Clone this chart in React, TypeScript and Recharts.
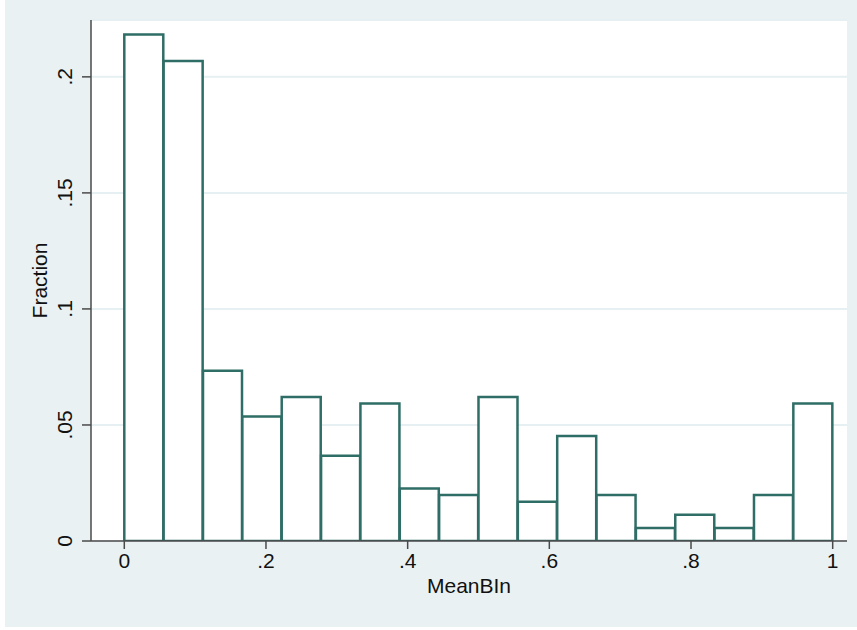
import React from "react"
import { Bar, CartesianGrid, ComposedChart, XAxis, YAxis } from "recharts"

// histogram of MeanBIn, 18 equal bins over [0, 1]
const binCount = 18
const fractions = [
    0.2183, 0.2068, 0.0734, 0.0537, 0.0621, 0.0367, 0.0593, 0.0226, 0.0198,
    0.0621, 0.0169, 0.0452, 0.0198, 0.0056, 0.0113, 0.0056, 0.0198, 0.0593,
]
const xTicks = [0, 0.2, 0.4, 0.6, 0.8, 1]
const yTicks = [0, 0.05, 0.1, 0.15, 0.2]
const xTitle = "MeanBIn"
const yTitle = "Fraction"

const binWidth = 1 / binCount
const data = fractions.map((f, i) => ({
    mid: (i + 0.5) * binWidth,
    fraction: f,
}))

const FONT = "'Liberation Sans', Arial, sans-serif"
const FS = 21
const BAR_COLOR = "#2f6e66"
const AXIS_COLOR = "#4a4a4a"
const BG = "#eaf1f3"

// stata style labels: "0", ".2", ".05" ...
const fmt = (v: number) => {
    if (v === 0) return "0"
    if (v === 1) return "1"
    return String(+v.toFixed(3)).replace(/^0/, "")
}

const XTick = ({ x, y, payload }: any) => (
    <text x={x} y={y} dy={19} textAnchor="middle" fontSize={FS} fill="#111" fontFamily={FONT}>
        {fmt(payload.value)}
    </text>
)

const YTick = ({ x, y, payload }: any) => (
    <text
        x={x - 10}
        y={y}
        textAnchor="middle"
        fontSize={FS}
        fill="#111"
        fontFamily={FONT}
        transform={`rotate(-90, ${x - 10}, ${y})`}
    >
        {fmt(payload.value)}
    </text>
)

export default function App() {
    return (
        <div style={{ position: "absolute", left: 0, top: 0, width: 857, height: 630, background: "#fff" }}>
            <div style={{ position: "absolute", left: 5, top: 0, width: 852, height: 627, background: BG }} />
            <div style={{ position: "absolute", left: 0, top: 0 }}>
                <ComposedChart
                    width={857}
                    height={630}
                    data={data}
                    margin={{ top: 20, right: 10, bottom: 0, left: 0 }}
                    barCategoryGap={0}
                    barGap={0}
                >
                    <CartesianGrid vertical={false} fill="#fff" stroke="#e6eff2" strokeWidth={2} />
                    <XAxis
                        type="number"
                        dataKey="mid"
                        domain={[-0.047, 1.0202]}
                        ticks={xTicks}
                        allowDataOverflow
                        height={89}
                        tickSize={8}
                        tickMargin={0}
                        tick={<XTick />}
                        stroke={AXIS_COLOR}
                        strokeWidth={1.5}
                        label={({ viewBox }: any) => (
                            <text
                                x={viewBox.x + viewBox.width / 2}
                                y={593}
                                textAnchor="middle"
                                fontSize={FS}
                                fill="#111"
                                fontFamily={FONT}
                            >
                                {xTitle}
                            </text>
                        )}
                    />
                    <YAxis
                        type="number"
                        domain={[0, 0.2245]}
                        ticks={yTicks}
                        allowDataOverflow
                        width={91}
                        tickSize={9}
                        tickMargin={0}
                        tick={<YTick />}
                        stroke={AXIS_COLOR}
                        strokeWidth={1.5}
                        label={({ viewBox }: any) => {
                            const cy = viewBox.y + viewBox.height / 2
                            return (
                                <text
                                    x={47}
                                    y={cy}
                                    textAnchor="middle"
                                    fontSize={FS}
                                    fill="#111"
                                    fontFamily={FONT}
                                    transform={`rotate(-90, 47, ${cy})`}
                                >
                                    {yTitle}
                                </text>
                            )
                        }}
                    />
                    <Bar
                        dataKey="fraction"
                        fill="#fff"
                        stroke={BAR_COLOR}
                        strokeWidth={2.5}
                        isAnimationActive={false}
                    />
                </ComposedChart>
            </div>
        </div>
    )
}
